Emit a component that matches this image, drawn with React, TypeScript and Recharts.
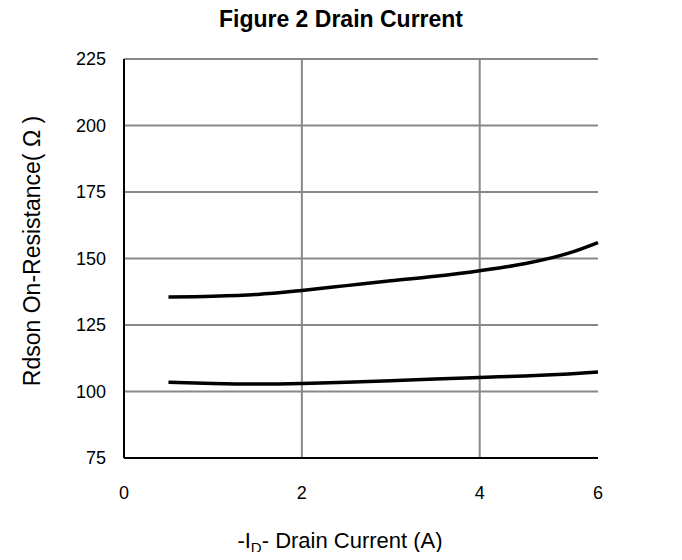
import { LineChart, Line, XAxis, YAxis, CartesianGrid } from 'recharts'

// right edge of the plot is labelled "6" in the original figure
const X_EDGE = 5.33

const current = [0.5, 1, 1.5, 2, 2.5, 3, 3.5, 4, 4.5, 5, X_EDGE]
const rdsonHigh = [135.5, 135.8, 136.5, 138, 139.8, 141.6, 143.3, 145.4, 148, 152, 156]
const rdsonLow = [103.5, 103, 102.8, 103, 103.5, 104, 104.7, 105.3, 105.8, 106.6, 107.3]

const xTicks = [0, 2, 4, X_EDGE]
const xTickLabels = ['0', '2', '4', '6']
const yTicks = [75, 100, 125, 150, 175, 200, 225]

const data = current.map((x, i) => ({ x, high: rdsonHigh[i], low: rdsonLow[i] }))

const font = 'Arial, "Liberation Sans", Helvetica, sans-serif'

export default function App() {
  return (
    <div style={{ position: 'relative', width: 682, height: 560, margin: -8, background: '#fff', fontFamily: font }}>
      <div style={{ position: 'absolute', top: 6, left: 0, width: 682, textAlign: 'center', fontSize: 23, fontWeight: 'bold' }}>
        Figure 2 Drain Current
      </div>
      <LineChart width={682} height={560} data={data} margin={{ top: 59, right: 84, bottom: 72, left: 64 }}>
        <CartesianGrid stroke="#888" strokeWidth={2} horizontal vertical verticalValues={[2, 4]} />
        <XAxis
          dataKey="x"
          type="number"
          domain={[0, X_EDGE]}
          ticks={xTicks}
          tickFormatter={(v: number) => xTickLabels[xTicks.indexOf(v)]}
          height={30}
          tickLine={false}
          tickMargin={22}
          axisLine={{ stroke: '#000', strokeWidth: 2 }}
          tick={{ fill: '#000', fontSize: 18, fontFamily: font }}
          label={{
            content: () => (
              <text x={340} y={548} textAnchor="middle" fontSize={22} fontFamily={font} fill="#000">
                -I<tspan fontSize={15} dy={5}>D</tspan>
                <tspan dy={-5}>- Drain Current (A)</tspan>
              </text>
            )
          }}
        />
        <YAxis
          type="number"
          domain={[75, 225]}
          ticks={yTicks}
          width={60}
          tickLine={false}
          tickMargin={12}
          axisLine={{ stroke: '#000', strokeWidth: 2 }}
          tick={{ fill: '#000', fontSize: 18, fontFamily: font }}
          label={{
            content: () => (
              <text x={40} y={251} textAnchor="middle" fontSize={23} fontFamily={font} fill="#000" transform="rotate(-90 40 251)">
                Rdson On-Resistance( Ω )
              </text>
            )
          }}
        />
        <Line type="monotone" dataKey="high" stroke="#000" strokeWidth={3.5} dot={false} isAnimationActive={false} />
        <Line type="monotone" dataKey="low" stroke="#000" strokeWidth={3.5} dot={false} isAnimationActive={false} />
      </LineChart>
    </div>
  )
}
